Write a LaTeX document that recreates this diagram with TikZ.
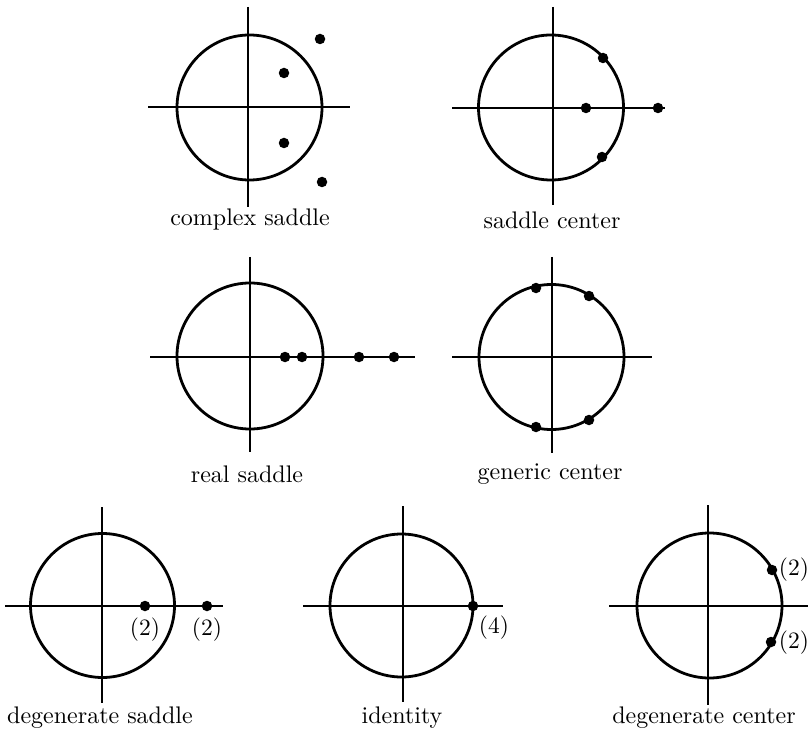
\documentclass[tikz,border=0pt]{standalone}
\begin{document}
\begin{tikzpicture}[x=1pt,y=-1pt,
  ring/.style={line width=2.8pt},
  axis/.style={line width=1.6pt},
  dot/.style={circle,fill=black,inner sep=0pt,minimum size=10.5pt},
  captext/.style={font=\fontsize{10}{12}\selectfont,inner sep=0pt,scale=2.4,transform shape},
  mult/.style={font=\fontsize{10}{12}\selectfont,inner sep=0pt,scale=2.35,transform shape}]
\useasboundingbox (0,0) rectangle (808,735);

% ---- complex saddle
\draw[axis] (148,107) -- (350,107);
\draw[axis] (248,7) -- (248,207);
\draw[ring] (249.5,107.5) circle (72.5);
\node[dot] (a1) at (320,39) {};
\node[dot] (a2) at (284,73) {};
\node[dot] (a3) at (284,143) {};
\node[dot] (a4) at (322,182) {};
\node[captext] (la) at (250,220) {complex saddle};

% ---- saddle center
\draw[axis] (452,108) -- (665,108);
\draw[axis] (553,7) -- (553,205);
\draw[ring] (551,107.5) circle (72.5);
\node[dot] (b1) at (603,58) {};
\node[dot] (b2) at (586,108) {};
\node[dot] (b3) at (658,108) {};
\node[dot] (b4) at (602,157) {};
\node[captext] (lb) at (552,220) {saddle center};

% ---- real saddle
\draw[axis] (150,357) -- (415,357);
\draw[axis] (250,257) -- (250,452);
\draw[ring] (250,356) circle (73);
\node[dot] (c1) at (285,357) {};
\node[dot] (c2) at (302,357) {};
\node[dot] (c3) at (359,357) {};
\node[dot] (c4) at (394,357) {};
\node[captext] (lc) at (247,474) {real saddle};

% ---- generic center
\draw[axis] (452,357) -- (652,357);
\draw[axis] (552,257) -- (552,453);
\draw[ring] (551.5,357) circle (72.5);
\node[dot] (d1) at (536,288) {};
\node[dot] (d2) at (589,296) {};
\node[dot] (d3) at (536,427) {};
\node[dot] (d4) at (589,420) {};
\node[captext] (ld) at (550,474) {generic center};

% ---- degenerate saddle
\draw[axis] (5,606) -- (223,606);
\draw[axis] (102,507) -- (102,703);
\draw[ring] (102.5,605.5) circle (72);
\node[dot] (e1) at (145,606) {};
\node[dot] (e2) at (207,606) {};
\node[mult] (me1) at (145,630) {(2)};
\node[mult] (me2) at (207,630) {(2)};
\node[captext] (le) at (100,718) {degenerate saddle};

% ---- identity
\draw[axis] (303,606) -- (503,606);
\draw[axis] (403,506) -- (403,702);
\draw[ring] (401.5,605.5) circle (71.5);
\node[dot] (f1) at (473,606) {};
\node[mult] (mf1) at (494,628) {(4)};
\node[captext] (lf) at (402,718) {identity};

% ---- degenerate center
\draw[axis] (609,606) -- (808,606);
\draw[axis] (708,505) -- (708,705);
\draw[ring] (709.5,605.5) circle (72.5);
\node[dot] (g1) at (772,570) {};
\node[dot] (g2) at (771,642) {};
\node[mult] (mg1) at (794,570) {(2)};
\node[mult] (mg2) at (794,643) {(2)};
\node[captext] (lg) at (704,718) {degenerate center};
\end{tikzpicture}
\end{document}
